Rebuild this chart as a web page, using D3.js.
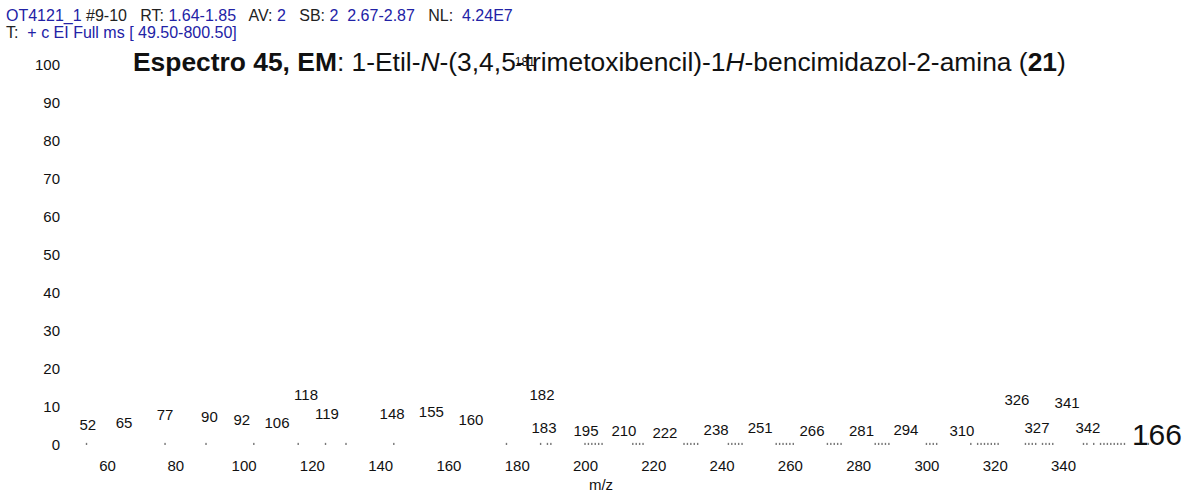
<!DOCTYPE html>
<html><head><meta charset="utf-8">
<script src="https://cdn.jsdelivr.net/npm/d3@7"></script>
<style>
body{margin:0;background:#fff;}
svg text{font-family:"Liberation Sans",Arial,sans-serif;}
</style></head>
<body><svg id="c" width="1185" height="494"></svg>
<script>
// ---- data ----
const xTicks = [60,80,100,120,140,160,180,200,220,240,260,280,300,320,340];
const yTicks = [0,10,20,30,40,50,60,70,80,90,100];
// peak labels as printed on the spectrum, with their positions (m/z, relative abundance)
const peakLabels = ["52","65","77","90","92","106","118","119","148","155","160","182","183","195","210","222","238","251","266","281","294","310","326","327","341","342"];
const peakLabelMz = [54.4,65,77,90,99.5,109.8,118.3,124.4,143.5,155,166.6,187.4,188,200.3,211.4,223.4,238.4,251.3,266.5,281,294,310.4,326.5,332.4,341.2,347.3];
const peakLabelRel = [5.3,6.0,8.1,7.6,6.6,5.8,13.4,8.4,8.4,8.7,6.6,13.2,4.5,3.9,3.9,3.4,4.2,4.5,3.9,3.9,4.2,3.9,12.1,4.7,11.3,4.7];
// base peak label (drawn over the title) and stray label at the right edge
const basePeakLabel = "181";
const strayLabel = "166";
// tiny peaks visible along the baseline (m/z)
const stickMz = [54,77,89,103,116,124,130,144,177,187,189,190,
  200,201,202,203,204,205,214,215,216,217,229,230,231,232,233,
  242,243,244,245,246,256,257,258,259,260,261,271,272,273,274,275,
  285,286,287,288,289,300,301,302,303,313,315,316,317,318,319,320,321,
  329,330,331,332,334,335,336,337,346,347,349,351,352,353,354,355,356,357,358,365];
const stickRel = stickMz.map(()=>0.3);
const headerLine1 = [["OT4121_1","b"],[" #9-10   RT: ","k"],["1.64-1.85","b"],["   AV: ","k"],["2","b"],["   SB: ","k"],["2  2.67-2.87","b"],["   NL:  ","k"],["4.24E7","b"]];
const headerLine2 = [["T:  ","k"],["+ c EI Full ms [ 49.50-800.50]","b"]];

// ---- drawing ----
const svg = d3.select("#c");
const x = d3.scaleLinear().domain([60,340]).range([107,1063]);
const y = d3.scaleLinear().domain([0,100]).range([445,65]);
const blue = "#2222a6";

function header(line, yy){
  const t = svg.append("text").attr("x",6).attr("y",yy).attr("font-size",16).style("white-space","pre");
  line.forEach(([s,c])=>t.append("tspan").attr("fill",c==="b"?blue:"#222").text(s));
}
header(headerLine1, 21);
header(headerLine2, 38);

// title
const title = svg.append("text").attr("x",133).attr("y",71).attr("font-size",26.4).attr("fill","#111");
title.append("tspan").attr("font-weight","bold").text("Espectro 45, EM");
title.append("tspan").text(": 1-Etil-");
title.append("tspan").attr("font-style","italic").text("N");
title.append("tspan").text("-(3,4,5-trimetoxibencil)-1");
title.append("tspan").attr("font-style","italic").text("H");
title.append("tspan").text("-bencimidazol-2-amina (");
title.append("tspan").attr("font-weight","bold").text("21");
title.append("tspan").text(")");
let bx = 506;
try {
  const full = title.node().textContent;
  const idx = full.indexOf("5-t");
  bx = title.node().getEndPositionOfChar(idx).x;
} catch(e) {}
svg.append("text").attr("x",bx-1).attr("y",y(100)+1).attr("font-size",12).attr("fill","#111").text(basePeakLabel);

// axes (no lines)
const ya = svg.append("g").attr("transform","translate(60,0)")
  .call(d3.axisLeft(y).tickValues(yTicks).tickSize(0).tickPadding(0));
const xa = svg.append("g").attr("transform","translate(0,460)")
  .call(d3.axisBottom(x).tickValues(xTicks).tickSize(0).tickPadding(0));
[ya,xa].forEach(a=>{a.select(".domain").remove();a.selectAll("text").attr("font-size",15).attr("fill","#111").attr("font-family","Liberation Sans, Arial, sans-serif");});
svg.append("text").attr("x",601).attr("y",490).attr("text-anchor","middle").attr("font-size",15).attr("fill","#111").text("m/z");

// sticks
svg.append("g").selectAll("rect").data(stickMz).join("rect")
  .attr("x",d=>x(d)-0.7).attr("y",(d,i)=>y(stickRel[i])-1).attr("width",1.4).attr("height",(d,i)=>y(0)-y(stickRel[i])+1)
  .attr("fill","#777");

// peak labels
svg.append("g").selectAll("text").data(peakLabels).join("text")
  .attr("x",(d,i)=>x(peakLabelMz[i])).attr("y",(d,i)=>y(peakLabelRel[i])+5.5)
  .attr("text-anchor","middle").attr("font-size",15).attr("fill","#111").text(d=>d);

svg.append("text").attr("x",1182).attr("y",445).attr("text-anchor","end")
  .attr("font-family","Liberation Serif, Times New Roman, serif").attr("font-size",30).attr("fill","#111").text(strayLabel);
</script></body></html>
